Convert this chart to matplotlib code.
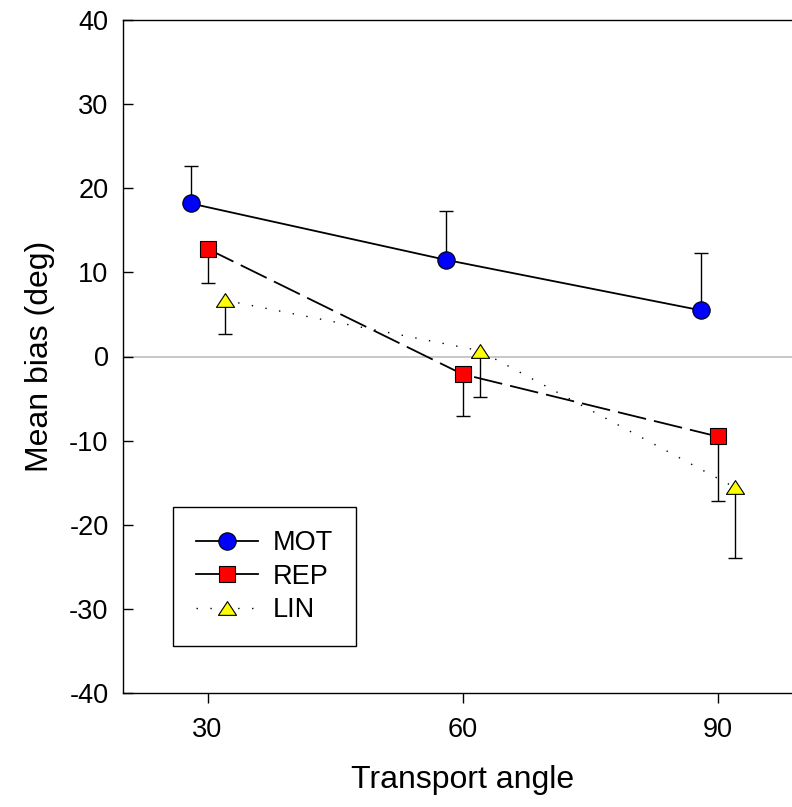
import numpy as np
import matplotlib
matplotlib.use("Agg")
import matplotlib.pyplot as plt
from matplotlib.lines import Line2D
from matplotlib.path import Path

plt.rcParams['font.family'] = ['Liberation Sans', 'DejaVu Sans']
plt.rcParams['axes.unicode_minus'] = False

# data
mot_x = [28, 58, 88]
mot_y = [18.2, 11.5, 5.5]
mot_err = [4.5, 5.8, 6.8]      # upward only

rep_x = [30, 60, 90]
rep_y = [12.8, -2.1, -9.5]
rep_err = [4.1, 4.95, 7.7]     # downward only

lin_x = [32, 62, 92]
lin_y = [6.7, 0.7, -15.55]
lin_err = [4.05, 5.55, 8.4]    # downward only

xticks = [30, 60, 90]
yticks = list(range(-40, 41, 10))

# flat triangle marker
tri = Path([(0, 0.76), (-1, -0.76), (1, -0.76), (0, 0.76)],
           [Path.MOVETO, Path.LINETO, Path.LINETO, Path.CLOSEPOLY])

fig = plt.figure(figsize=(7.92, 8.07), dpi=100)
ax = fig.add_axes([122.5/792, 1-693/807, 680/792, 673/807])

ax.axhline(0, color='#c4c4c4', lw=1.3, zorder=1)

def one_sided(x, y, err, sign):
    y = np.array(y); err = np.array(err)
    ends = y + sign*err
    ax.vlines(x, y, ends, color='black', lw=1.0, zorder=2)
    ax.plot(x, ends, ls='none', marker='_', ms=9.5, mew=1.0, color='black', zorder=2)

one_sided(mot_x, mot_y, mot_err, +1)
one_sided(rep_x, rep_y, rep_err, -1)
one_sided(lin_x, lin_y, lin_err, -1)

ax.plot(mot_x, mot_y, color='black', lw=1.3, marker='o', ms=12.5,
        mfc='blue', mec='black', mew=0.8, zorder=4)
ax.plot(rep_x, rep_y, color='black', lw=1.3, dashes=(16, 4.5), marker='s', ms=11,
        mfc='red', mec='black', mew=0.8, zorder=4)
ax.plot(lin_x, lin_y, color='black', lw=1.0, dashes=(1, 9), marker=tri, ms=13,
        mfc='yellow', mec='black', mew=0.8, zorder=4)

ax.set_xlim(20, 100)
ax.set_ylim(-40, 40)
ax.set_xticks(xticks)
ax.set_yticks(yticks)
ax.tick_params(axis='x', direction='out', length=7, width=1, pad=10, labelsize=19.5)
ax.tick_params(axis='y', direction='in', length=7, width=1, pad=10, labelsize=19.5)
for s in ['left', 'bottom', 'top']:
    ax.spines[s].set_linewidth(1.0)
ax.spines['right'].set_visible(False)

ax.set_xlabel('Transport angle', fontsize=23, labelpad=16)
ax.set_ylabel('Mean bias (deg)', fontsize=23, labelpad=10)

handles = [
    Line2D([], [], color='black', lw=1.3, marker='o', ms=12.5, mfc='blue', mec='black', mew=0.8),
    Line2D([], [], color='black', lw=1.3, marker='s', ms=11, mfc='red', mec='black', mew=0.8),
    Line2D([], [], color='black', lw=1.0, dashes=(1, 9), marker=tri, ms=13, mfc='yellow', mec='black', mew=0.8),
]
leg = ax.legend(handles, ['MOT', 'REP', 'LIN'], loc='upper left',
                bbox_to_anchor=(173/792, 1-507/807), bbox_transform=fig.transFigure,
                borderaxespad=0, fontsize=19.5, handlelength=2.3, handletextpad=0.55,
                labelspacing=0.28, borderpad=0.85, fancybox=False, framealpha=1,
                edgecolor='black')
leg.get_frame().set_linewidth(1.0)

fig.savefig('out.png', dpi=100)
